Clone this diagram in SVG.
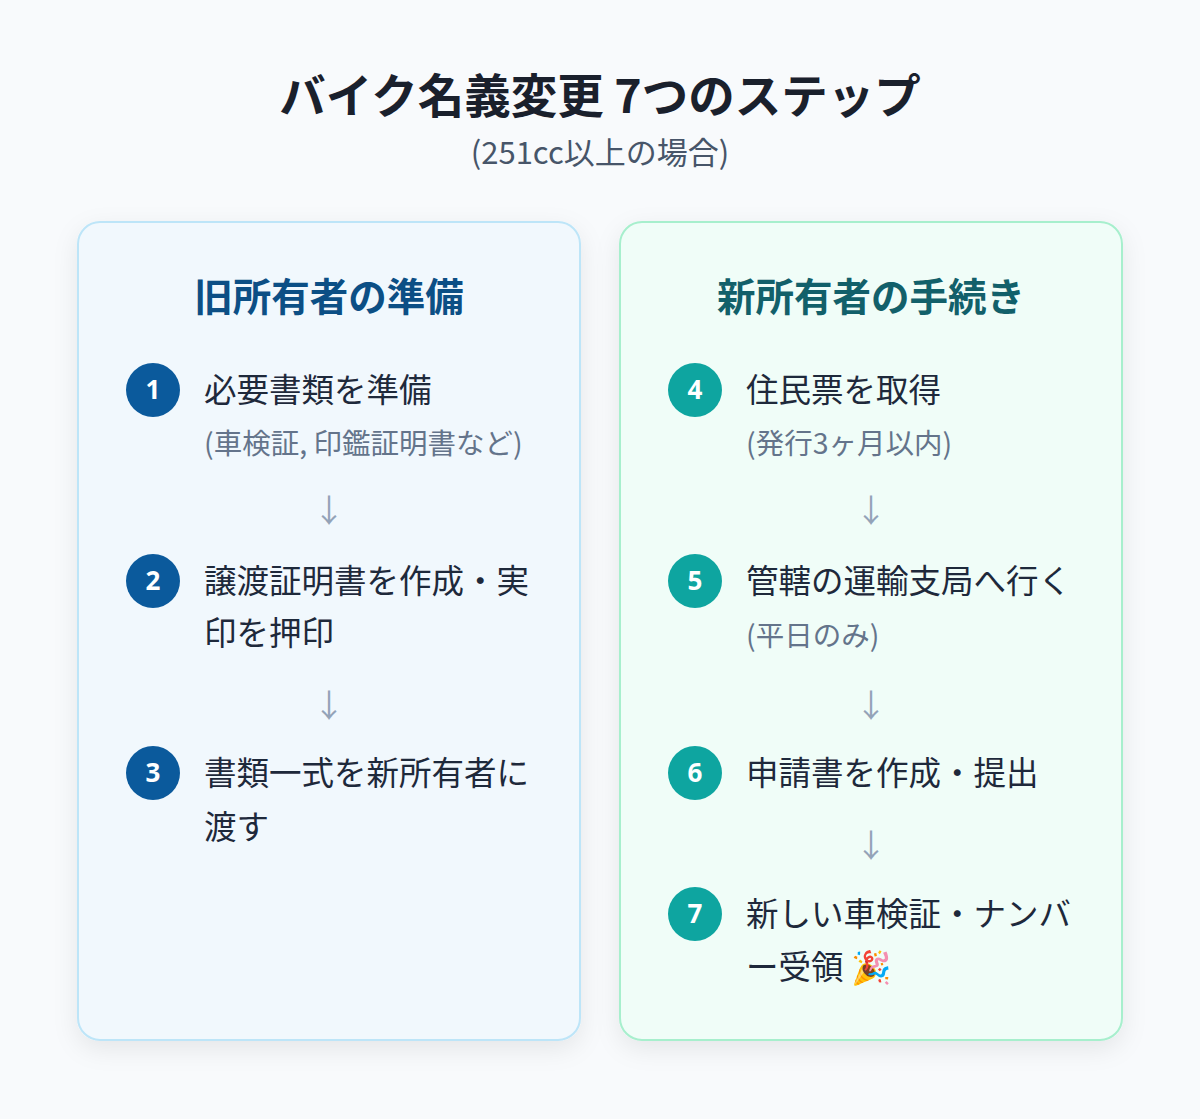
<svg xmlns="http://www.w3.org/2000/svg" width="1200" height="1119" viewBox="0 0 1200 1119">
<defs>
<filter id="sh" x="-10%" y="-10%" width="120%" height="120%"><feDropShadow dx="0" dy="8" stdDeviation="12" flood-color="#0f172a" flood-opacity="0.08"/></filter>
<style>
text{font-family:"Noto Sans CJK JP","Noto Sans",sans-serif}
.t{font-size:32.5px;fill:#1e293b}
.s{font-size:28.5px;fill:#64748b}
.a{font-size:32px;fill:#94a3b8;text-anchor:middle}
.n{font-size:26px;font-weight:700;fill:#fff;text-anchor:middle;font-family:"Noto Sans",sans-serif}
.h{font-size:38.5px;font-weight:700;text-anchor:middle}
.c1{fill:#0b5a9c}.c2{fill:#0ea5a0}
</style>
</defs>
<rect width="1200" height="1119" fill="#f8fafc"/>
<text x="600" y="113" text-anchor="middle" font-size="46.5" font-weight="700" fill="#1a202c">バイク名義変更 7つのステップ</text>
<text x="600" y="164" text-anchor="middle" font-size="31" fill="#475569">(251cc以上の場合)</text>
<g id="left">
<rect x="78" y="222" width="502" height="818" rx="22" fill="#f1f8fd" stroke="#bde5f8" stroke-width="2" filter="url(#sh)"/>
<text x="329" y="311" class="h" fill="#0c4f85">旧所有者の準備</text>
</g>
<g id="right">
<rect x="620" y="222" width="502" height="818" rx="22" fill="#f0fdf8" stroke="#a7efcd" stroke-width="2" filter="url(#sh)"/>
<text x="871" y="311" class="h" fill="#12606a">新所有者の手続き</text>
</g>
<g id="step1"><circle cx="153" cy="390" r="27" class="c1"/><text x="153" y="399" class="n">1</text><text x="204" y="402" class="t">必要書類を準備</text><text x="204" y="454" class="s">(車検証, 印鑑証明書など)</text></g>
<g id="step2"><circle cx="153" cy="581" r="27" class="c1"/><text x="153" y="590" class="n">2</text><text x="204" y="593" class="t">譲渡証明書を作成・実</text><text x="204" y="645" class="t">印を押印</text></g>
<g id="step3"><circle cx="153" cy="773" r="27" class="c1"/><text x="153" y="782" class="n">3</text><text x="204" y="785" class="t">書類一式を新所有者に</text><text x="204" y="839" class="t">渡す</text></g>
<g id="step4"><circle cx="695" cy="390" r="27" class="c2"/><text x="695" y="399" class="n">4</text><text x="746" y="402" class="t">住民票を取得</text><text x="746" y="454" class="s">(発行3ヶ月以内)</text></g>
<g id="step5"><circle cx="695" cy="581" r="27" class="c2"/><text x="695" y="590" class="n">5</text><text x="746" y="593" class="t">管轄の運輸支局へ行く</text><text x="746" y="646" class="s">(平日のみ)</text></g>
<g id="step6"><circle cx="695" cy="773" r="27" class="c2"/><text x="695" y="782" class="n">6</text><text x="746" y="785" class="t">申請書を作成・提出</text></g>
<g id="step7"><circle cx="695" cy="914" r="27" class="c2"/><text x="695" y="923" class="n">7</text><text x="746" y="926" class="t">新しい車検証・ナンバ</text><text x="746" y="979" class="t">ー受領 🎉</text></g>
<g id="connectors">
<text x="329" y="522" class="a">↓</text>
<text x="329" y="717" class="a">↓</text>
<text x="871" y="522" class="a">↓</text>
<text x="871" y="717" class="a">↓</text>
<text x="871" y="857" class="a">↓</text>
</g>
</svg>
